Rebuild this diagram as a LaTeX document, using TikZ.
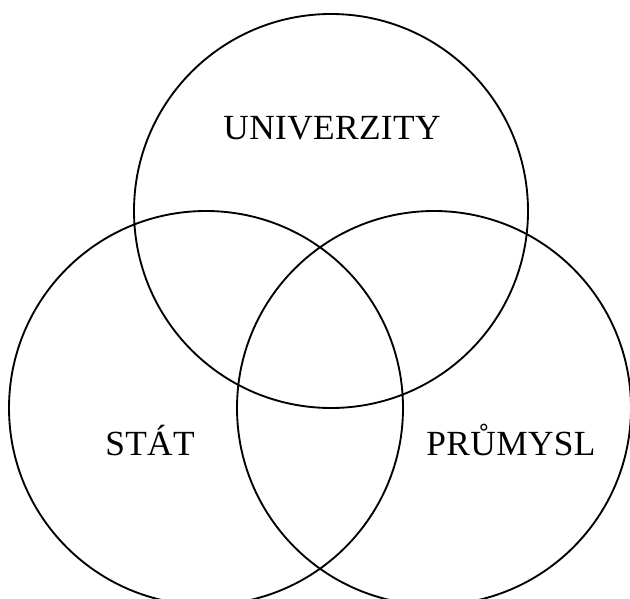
\documentclass[tikz,border=0pt]{standalone}
\usepackage{fontspec}
\setmainfont[LetterSpace=1]{Liberation Serif}

\begin{document}
\begin{tikzpicture}[x=0.75pt,y=-0.75pt]
\useasboundingbox (0,0) rectangle (630,598);
\clip (0,0) rectangle (630,598);
\tikzset{ring/.style={line width=1.4pt},
  label/.style={anchor=base,inner sep=0pt,font=\fontsize{26.5}{32}\selectfont}}
% the three sets
\draw[ring] (331,211) circle[radius=197];
\draw[ring] (206,408) circle[radius=197];
\draw[ring] (434,408) circle[radius=197];
% names
\node[label] (univerzity) at (332,140) {UNIVERZITY};
\node[label] (stat) at (150,455) {STÁT};
\node[label] (prumysl) at (511,455) {PRŮMYSL};
\end{tikzpicture}
\end{document}
